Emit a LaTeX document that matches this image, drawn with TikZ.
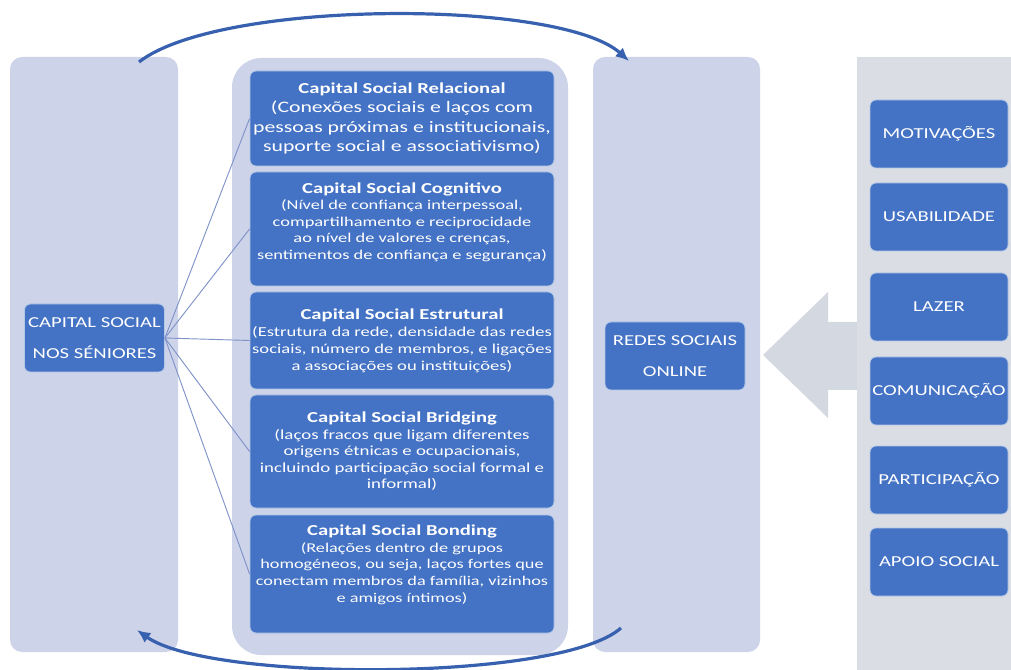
\documentclass[tikz,border=0pt]{standalone}
\usepackage{fontspec}
\setmainfont[FakeStretch=1.36]{Carlito}
\usepackage{tikz}
\usetikzlibrary{arrows.meta}
\usetikzlibrary{positioning}

\definecolor{boxblue}{HTML}{4472C4}
\definecolor{boxedge}{HTML}{B4C7E7}
\definecolor{panel}{HTML}{CDD3E9}
\definecolor{greypanel}{HTML}{DADDE4}
\definecolor{bigarrow}{HTML}{D4D8E1}
\definecolor{fanline}{HTML}{7F93C8}
\definecolor{arcblue}{HTML}{3760AE}

\newcommand{\captitle}[1]{{\fontsize{11.4}{12}\selectfont\bfseries #1}}

\tikzset{
  bluebox/.style={draw=boxedge, line width=0.6pt, fill=boxblue, text=white,
    rounded corners=4.5pt, align=center, inner sep=1pt},
  capbox/.style={bluebox, minimum width=228pt},
  sidebox/.style={bluebox, minimum width=105pt, minimum height=51pt,
    font=\fontsize{11.4}{23}\selectfont},
  factorbox/.style={bluebox, minimum width=103.5pt, minimum height=51pt,
    font=\fontsize{11.4}{14}\selectfont},
  fan/.style={draw=fanline, line width=0.7pt},
  cyclearc/.style={draw=arcblue, line width=2.4pt, -{Latex[length=10pt,width=9pt]}}
}

\begin{document}
\begin{tikzpicture}[x=0.75pt, y=-0.75pt]
\useasboundingbox (0,0) rectangle (1011,670);

% painéis de fundo
\fill[panel, rounded corners=9pt] (10,57) rectangle (178,652);
\fill[panel, rounded corners=22pt] (232,58) rectangle (568,655);
\fill[panel, rounded corners=9pt] (593,57) rectangle (760,652);
\fill[bigarrow] (763,355) -- (828,292) -- (828,322) -- (860,322)
  -- (860,390) -- (828,390) -- (828,418) -- cycle;
\fill[greypanel] (857,57) rectangle (1011,670);

% dimensões do capital social
\node[capbox, minimum height=71.25pt, font=\fontsize{12}{14.7}\selectfont] (Rel) at (402,118.5) {\captitle{Capital Social Relacional}\\(Conexões sociais e laços com\\pessoas próximas e institucionais,\\suporte social e associativismo)};
\node[capbox, minimum height=85.5pt, font=\fontsize{10.15}{12.4}\selectfont] (Cog) at (402,229) {\captitle{Capital Social Cognitivo}\\(Nível de confiança interpessoal,\\compartilhamento e reciprocidade\\ao nível de valores e crenças,\\sentimentos de confiança e segurança)\\\mbox{}};
\node[capbox, minimum height=72.75pt, font=\fontsize{10.25}{12.7}\selectfont] (Est) at (402,340.5) {\captitle{Capital Social Estrutural}\\(Estrutura da rede, densidade das redes\\sociais, número de membros, e ligações\\a associações ou instituições)};
\node[capbox, minimum height=84.75pt, font=\fontsize{10.4}{12.4}\selectfont] (Bri) at (402,451.5) {\captitle{Capital Social Bridging}\\(laços fracos que ligam diferentes\\origens étnicas e ocupacionais,\\incluindo participação social formal e\\informal)};
\node[capbox, minimum height=88.5pt, font=\fontsize{10.06}{12.6}\selectfont] (Bon) at (402,574) {\captitle{Capital Social Bonding}\\(Relações dentro de grupos\\homogéneos, ou seja, laços fortes que\\conectam membros da família, vizinhos\\e amigos íntimos)\\[3pt]\mbox{}};

\node[sidebox] (CS) at (94.5,338) {CAPITAL SOCIAL\\NOS SÉNIORES};
\node[sidebox] (RSO) at (675,356) {REDES SOCIAIS\\ONLINE};

% fatores
\node[factorbox] (Mot) at (939,134) {MOTIVAÇÕES};
\node[factorbox] (Usa) at (939,217) {USABILIDADE};
\node[factorbox] (Laz) at (939,307) {LAZER};
\node[factorbox] (Com) at (939,391) {COMUNICAÇÃO};
\node[factorbox] (Par) at (939,480) {PARTICIPAÇÃO};
\node[factorbox] (Apo) at (939,562) {APOIO SOCIAL};

\draw[fan] (CS.east) -- (Rel.west);
\draw[fan] (CS.east) -- (Cog.west);
\draw[fan] (CS.east) -- (Est.west);
\draw[fan] (CS.east) -- (Bri.west);
\draw[fan] (CS.east) -- (Bon.west);

% ciclo entre os painéis
\coordinate (topL) at (139,62);
\coordinate (topR) at (629,61);
\coordinate (botR) at (621,628);
\coordinate (botL) at (137,630);
\draw[cyclearc] (topL) .. controls (220,-1) and (560,-1) .. (topR);
\draw[cyclearc] (botR) .. controls (560,682) and (210,682) .. (botL);
\end{tikzpicture}
\end{document}
